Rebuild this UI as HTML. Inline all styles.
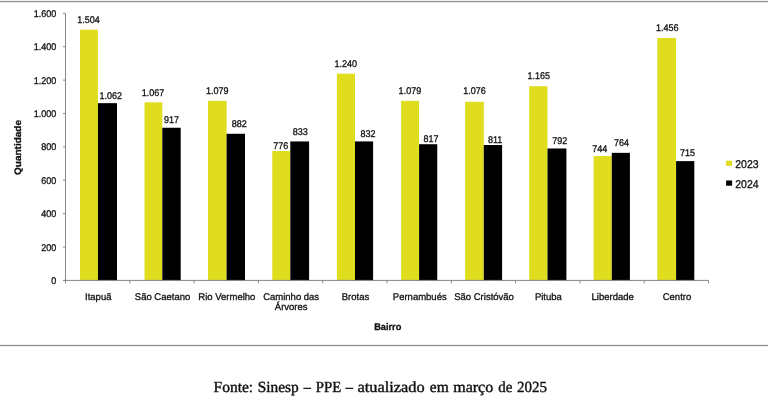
<!DOCTYPE html>
<html><head><meta charset="utf-8"><title>Chart</title>
<style>
html,body{margin:0;padding:0;background:#fff;}
body{width:768px;height:418px;overflow:hidden;position:relative;font-family:"Liberation Sans",sans-serif;}
svg{position:absolute;left:0;top:0;will-change:transform;}
text{font-family:"Liberation Sans",sans-serif;fill:#111;text-rendering:geometricPrecision;stroke:#111;stroke-width:0.3px;}
.s{font-size:9.7px;}
.b{font-size:9.7px;font-weight:bold;}
.l{font-size:11.3px;}
.f{font-family:"Liberation Serif",serif;font-size:15.4px;fill:#111;stroke:#111;stroke-width:0.4px;}
</style></head><body>
<svg width="768" height="418" viewBox="0 0 768 418">
<rect x="0" y="0" width="768" height="418" fill="#fff"/>
<rect x="0" y="0" width="768" height="1" fill="#f3f3f3"/>
<rect x="0" y="1" width="768" height="1" fill="#969696"/>
<rect x="0" y="2" width="768" height="1" fill="#e6e6e6"/>
<rect x="0" y="344" width="768" height="1" fill="#f1f1f1"/>
<rect x="0" y="345" width="768" height="1" fill="#8e8e8e"/>
<rect x="0" y="346" width="768" height="1" fill="#f1f1f1"/>

<rect x="80.00" y="29.68" width="17.95" height="250.72" fill="#dfdd1e"/>
<rect x="97.95" y="103.16" width="19.05" height="177.24" fill="#000"/>
<rect x="144.50" y="102.33" width="17.80" height="178.07" fill="#dfdd1e"/>
<rect x="162.30" y="127.74" width="18.40" height="152.66" fill="#000"/>
<rect x="208.00" y="100.83" width="18.60" height="179.57" fill="#dfdd1e"/>
<rect x="226.60" y="133.77" width="18.40" height="146.63" fill="#000"/>
<rect x="272.30" y="151.04" width="18.00" height="129.36" fill="#dfdd1e"/>
<rect x="290.30" y="141.44" width="18.80" height="138.96" fill="#000"/>
<rect x="336.90" y="73.69" width="18.10" height="206.71" fill="#dfdd1e"/>
<rect x="355.00" y="141.41" width="18.10" height="138.99" fill="#000"/>
<rect x="401.10" y="100.83" width="18.00" height="179.57" fill="#dfdd1e"/>
<rect x="419.10" y="144.21" width="18.15" height="136.19" fill="#000"/>
<rect x="465.10" y="101.78" width="18.70" height="178.62" fill="#dfdd1e"/>
<rect x="483.80" y="145.01" width="18.30" height="135.39" fill="#000"/>
<rect x="529.20" y="86.19" width="18.30" height="194.21" fill="#dfdd1e"/>
<rect x="547.50" y="148.47" width="18.90" height="131.93" fill="#000"/>
<rect x="593.60" y="156.08" width="18.20" height="124.32" fill="#dfdd1e"/>
<rect x="611.80" y="152.84" width="18.10" height="127.56" fill="#000"/>
<rect x="657.30" y="37.98" width="18.80" height="242.42" fill="#dfdd1e"/>
<rect x="676.10" y="161.11" width="18.20" height="119.29" fill="#000"/>
<g stroke="#868686" stroke-width="1" fill="none">
<path d="M65.5 13.4V283.4"/>
<path d="M63.0 280.4H708.5"/>
<path d="M63.0 280.40H65.5"/>
<path d="M63.0 247.02H65.5"/>
<path d="M63.0 213.64H65.5"/>
<path d="M63.0 180.26H65.5"/>
<path d="M63.0 146.88H65.5"/>
<path d="M63.0 113.50H65.5"/>
<path d="M63.0 80.12H65.5"/>
<path d="M63.0 46.74H65.5"/>
<path d="M63.0 13.36H65.5"/>
<path d="M129.80 280.4V283.4"/>
<path d="M194.10 280.4V283.4"/>
<path d="M258.40 280.4V283.4"/>
<path d="M322.70 280.4V283.4"/>
<path d="M387.00 280.4V283.4"/>
<path d="M451.30 280.4V283.4"/>
<path d="M515.60 280.4V283.4"/>
<path d="M579.90 280.4V283.4"/>
<path d="M644.20 280.4V283.4"/>
<path d="M708.50 280.4V283.4"/>
</g>
<text class="s" transform="translate(56.30 284.00) scale(0.93 1)" text-anchor="end">0</text>
<text class="s" transform="translate(56.30 250.62) scale(0.93 1)" text-anchor="end">200</text>
<text class="s" transform="translate(56.30 217.24) scale(0.93 1)" text-anchor="end">400</text>
<text class="s" transform="translate(56.30 183.86) scale(0.93 1)" text-anchor="end">600</text>
<text class="s" transform="translate(56.30 150.48) scale(0.93 1)" text-anchor="end">800</text>
<text class="s" transform="translate(56.30 117.10) scale(0.93 1)" text-anchor="end">1.000</text>
<text class="s" transform="translate(56.30 83.72) scale(0.93 1)" text-anchor="end">1.200</text>
<text class="s" transform="translate(56.30 50.34) scale(0.93 1)" text-anchor="end">1.400</text>
<text class="s" transform="translate(56.30 16.96) scale(0.93 1)" text-anchor="end">1.600</text>
<text class="s" transform="translate(88.60 23.00) scale(0.93 1)" text-anchor="middle">1.504</text>
<text class="s" transform="translate(110.80 98.75) scale(0.93 1)" text-anchor="middle">1.062</text>
<text class="s" transform="translate(153.00 95.75) scale(0.93 1)" text-anchor="middle">1.067</text>
<text class="s" transform="translate(171.50 122.90) scale(0.93 1)" text-anchor="middle">917</text>
<text class="s" transform="translate(217.30 93.60) scale(0.93 1)" text-anchor="middle">1.079</text>
<text class="s" transform="translate(239.20 127.30) scale(0.93 1)" text-anchor="middle">882</text>
<text class="s" transform="translate(280.75 149.10) scale(0.93 1)" text-anchor="middle">776</text>
<text class="s" transform="translate(300.30 134.75) scale(0.93 1)" text-anchor="middle">833</text>
<text class="s" transform="translate(345.80 66.60) scale(0.93 1)" text-anchor="middle">1.240</text>
<text class="s" transform="translate(368.00 137.25) scale(0.93 1)" text-anchor="middle">832</text>
<text class="s" transform="translate(409.90 93.75) scale(0.93 1)" text-anchor="middle">1.079</text>
<text class="s" transform="translate(431.00 141.90) scale(0.93 1)" text-anchor="middle">817</text>
<text class="s" transform="translate(474.50 94.15) scale(0.93 1)" text-anchor="middle">1.076</text>
<text class="s" transform="translate(495.10 143.10) scale(0.93 1)" text-anchor="middle">811</text>
<text class="s" transform="translate(538.70 79.15) scale(0.93 1)" text-anchor="middle">1.165</text>
<text class="s" transform="translate(559.70 143.75) scale(0.93 1)" text-anchor="middle">792</text>
<text class="s" transform="translate(599.70 151.80) scale(0.93 1)" text-anchor="middle">744</text>
<text class="s" transform="translate(621.50 146.00) scale(0.93 1)" text-anchor="middle">764</text>
<text class="s" transform="translate(667.20 30.80) scale(0.93 1)" text-anchor="middle">1.456</text>
<text class="s" transform="translate(687.50 155.50) scale(0.93 1)" text-anchor="middle">715</text>
<text class="s" transform="translate(98.25 299.60) scale(0.98 1)" text-anchor="middle">Itapuã</text>
<text class="s" transform="translate(162.55 299.60) scale(0.98 1)" text-anchor="middle">São Caetano</text>
<text class="s" transform="translate(226.85 299.60) scale(0.98 1)" text-anchor="middle">Rio Vermelho</text>
<text class="s" transform="translate(291.15 299.60) scale(0.98 1)" text-anchor="middle">Caminho das</text>
<text class="s" transform="translate(291.15 309.60) scale(0.98 1)" text-anchor="middle">Árvores</text>
<text class="s" transform="translate(355.45 299.60) scale(0.98 1)" text-anchor="middle">Brotas</text>
<text class="s" transform="translate(419.75 299.60) scale(0.98 1)" text-anchor="middle">Pernambués</text>
<text class="s" transform="translate(484.05 299.60) scale(0.98 1)" text-anchor="middle">São Cristóvão</text>
<text class="s" transform="translate(548.35 299.60) scale(0.98 1)" text-anchor="middle">Pituba</text>
<text class="s" transform="translate(612.65 299.60) scale(0.98 1)" text-anchor="middle">Liberdade</text>
<text class="s" transform="translate(676.95 299.60) scale(0.98 1)" text-anchor="middle">Centro</text>
<text class="b" transform="translate(387.70 329.50) scale(0.95 1)" text-anchor="middle">Bairro</text>
<text class="b" style="font-size:10px" transform="translate(21.4 147.5) scale(0.95 1) rotate(-90)" text-anchor="middle">Quantidade</text>
<rect x="726.1" y="160.7" width="6" height="5.2" fill="#dfdd1e"/>
<rect x="726.1" y="180.5" width="6" height="5.2" fill="#000"/>
<text class="l" transform="translate(735.20 167.90) scale(0.93 1)">2023</text>
<text class="l" transform="translate(735.20 187.90) scale(0.93 1)">2024</text>
</svg>
<svg class="ft" width="768" height="48" viewBox="0 370 768 48" style="top:370px;will-change:auto">
<text class="f" x="213.50" y="391.8" textLength="39.70" lengthAdjust="spacingAndGlyphs">Fonte:</text>
<text class="f" x="257.70" y="391.8" textLength="41.00" lengthAdjust="spacingAndGlyphs">Sinesp</text>
<text class="f" x="303.70" y="391.8" textLength="7.00" lengthAdjust="spacingAndGlyphs">–</text>
<text class="f" x="315.80" y="391.8" textLength="25.40" lengthAdjust="spacingAndGlyphs">PPE</text>
<text class="f" x="345.80" y="391.8" textLength="7.20" lengthAdjust="spacingAndGlyphs">–</text>
<text class="f" x="357.50" y="391.8" textLength="67.20" lengthAdjust="spacingAndGlyphs">atualizado</text>
<text class="f" x="429.80" y="391.8" textLength="18.90" lengthAdjust="spacingAndGlyphs">em</text>
<text class="f" x="453.20" y="391.8" textLength="40.00" lengthAdjust="spacingAndGlyphs">março</text>
<text class="f" x="498.20" y="391.8" textLength="14.10" lengthAdjust="spacingAndGlyphs">de</text>
<text class="f" x="517.00" y="391.8" textLength="30.00" lengthAdjust="spacingAndGlyphs">2025</text>
</svg></body></html>
